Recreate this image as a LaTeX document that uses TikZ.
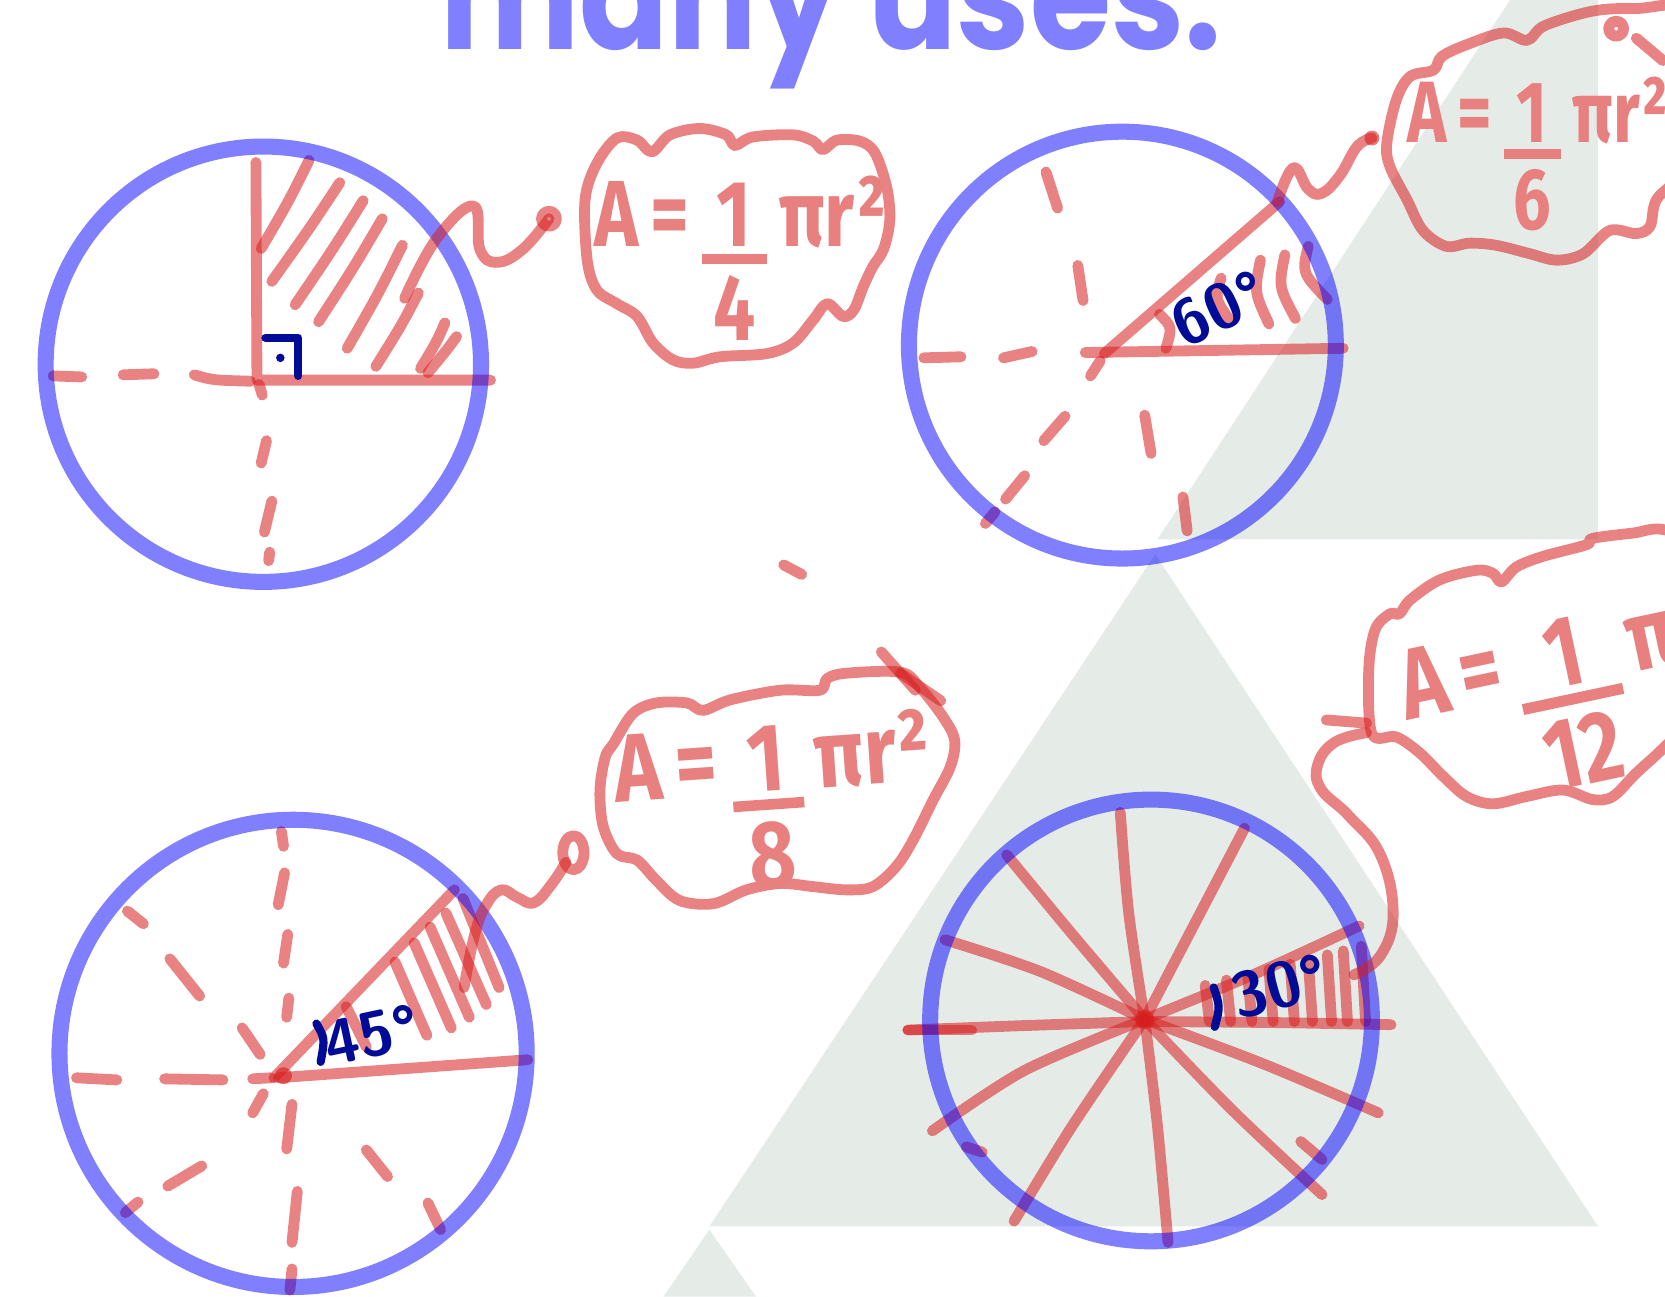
\documentclass[tikz,border=0pt]{standalone}
\usepackage{fontspec}
\newfontfamily\titlefont{Poppins}
\newfontfamily\handfont{Fira Sans}
\definecolor{inkred}{RGB}{215,30,30}
\definecolor{redtext}{RGB}{232,128,128}
\definecolor{navyink}{RGB}{0,12,150}
\definecolor{paper}{RGB}{229,236,232}
\newcommand{\secarea}[1]{{\handfont\bfseries A\,=\,\vtop{\halign{\hfil\kern1.5pt##\kern1.5pt\hfil\cr 1\cr\noalign{\kern0.8pt\hrule height 1.1pt\kern1.2pt}#1\cr}}\,πr²}}

\begin{document}
\begin{tikzpicture}[x=0.01cm, y=-0.01cm,
    ink/.style={draw=inkred, draw opacity=0.55, line width=2.9pt, line cap=round, line join=round},
    rim/.style={draw=blue, draw opacity=0.5, line width=4.3pt},
    navy/.style={draw=navyink, line width=2.2pt, line cap=round, line join=round},
    blob/.style={fill=inkred, fill opacity=0.6},
    eqn/.style={text=redtext, inner sep=0pt},
    angle/.style={text=navyink, inner sep=0pt, font=\sffamily\bfseries\fontsize{17}{17}\selectfont}]

    \useasboundingbox (0,0) rectangle (1568,1221);
    \fill[white] (0,0) rectangle (1568,1221);
    \fill[paper] (1422,0) -- (1505,0) -- (1505,508) -- (1090,508) -- cycle;
    \fill[paper] (1088,522) -- (1505,1155) -- (668,1155) -- cycle;
    \fill[paper] (668,1158) -- (712,1221) -- (625,1221) -- cycle;

    \node[anchor=base west, inner sep=0pt, text=blue!50, font=\titlefont\bfseries\fontsize{40}{40}\selectfont] (title) at (414,47) {\scalebox{0.88}[1]{many uses:}};
    \draw[ink] (738,532) -- (755,541);

    % quarter
    \draw[ink] (241,153) -- (242,358) -- (462,358);
    \draw[ink] (183,353) .. controls (200,358) .. (236,359);
    \foreach \xa/\ya/\xb/\yb in {50/354/77/355, 116/353/145/352, 244/362/247/372, 251/415/246/436, 256/472/249/501, 254/520/253/528}
      \draw[ink] (\xa,\ya) -- (\xb,\yb);
    \foreach \xa/\ya/\xb/\yb in {291/151/246/234, 320/172/256/265, 342/189/278/287, 360/206/300/303, 379/231/327/328, 394/276/354/345, 419/304/396/347, 430/317/403/351}
      \draw[ink] (\xa,\ya) .. controls ({(\xa+\xb)/2+4},{(\ya+\yb)/2-4}) .. (\xb,\yb);
    \draw[navy] (250,318) -- (281,318) -- (281,354);
    \fill[navyink] (264,337) circle[radius=4];
    \draw[rim] (248,343) circle[radius=205];

    \coordinate (h1) at (381,281);
    \coordinate (b1) at (517,206);
    \draw[ink] plot[smooth, tension=0.7] coordinates {(h1) (411,225) (446,194) (452,235) (468,247) (492,235) (b1)};
    \draw[ink] (b1) circle[radius=7];
    \draw[ink] plot[smooth cycle, tension=0.55] coordinates {(551,188) (562,154) (581,130) (600,132) (614,143) (631,127) (659,121) (684,127) (692,137) (709,129) (747,127) (766,133) (775,141) (788,132) (810,133) (824,144) (835,176) (838,207) (832,235) (822,251) (813,270) (804,292) (794,298) (779,286) (766,301) (747,323) (722,333) (678,336) (653,342) (634,339) (615,323) (600,298) (581,286) (562,273) (553,245)};
    \node[eqn] (eq4) at (697,243) {\resizebox*{2.75cm}{1.55cm}{\secarea{4}}};

    % sixth
    \draw[ink] (1022,332) -- (1265,328);
    \draw[ink] (1040,333) -- (1205,190);
    \foreach \xa/\ya/\xb/\yb in {1036/340/1027/354, 1003/392/983/415, 965/448/947/470, 937/482/928/493, 870/337/905/336, 945/337/972/331, 985/162/996/196, 1015/250/1020/283, 1078/391/1084/427, 1114/468/1118/500}
      \draw[ink] (\xa,\ya) -- (\xb,\yb);
    \foreach \xa/\ya/\xb/\yb in {1150/262/1157/300, 1187/245/1195/305, 1210/240/1220/300, 1232/232/1250/282}
      \draw[ink] (\xa,\ya) .. controls (\xa-6,{(\ya+\yb)/2}) .. (\xb,\yb);
    \draw[ink] (1092,296) .. controls (1104,308) .. (1098,328);
    \node[angle, rotate=25] (ang60) at (1148,290) {60°};
    \draw[rim] (1057,325) circle[radius=201];

    \coordinate (h2) at (1203,190);
    \coordinate (b2) at (1292,130);
    \draw[ink] plot[smooth, tension=0.7] coordinates {(h2) (1218,158) (1232,178) (1245,182) (1262,165) (1278,138) (b2)};
    \fill[blob] (b2) circle[radius=7];
    \draw[ink] plot[smooth cycle, tension=0.55] coordinates {(1306,135) (1315,94) (1328,72) (1350,66) (1358,53) (1384,41) (1416,31) (1438,38) (1453,25) (1485,14) (1510,9) (1541,8) (1600,10) (1610,90) (1585,160) (1560,188) (1554,213) (1541,220) (1516,217) (1491,239) (1466,245) (1441,239) (1409,231) (1384,229) (1362,232) (1340,217) (1325,188) (1309,157)};
    \draw[ink] (1522,27) circle[radius=7];
    \draw[ink] (1541,36) -- (1566,57);
    \node[eqn] (eq6) at (1448,145) {\resizebox*{2.45cm}{1.45cm}{\secarea{6}}};

    % eighth
    \draw[ink] (262,1015) -- (497,998);
    \draw[ink] (258,1015) -- (428,838);
    \fill[blob] (267,1013) circle[radius=8];
    \foreach \xa/\ya/\xb/\yb in {265/783/267/797, 268/822/262/852, 271/880/267/907, 272/940/270/958, 275/1040/270/1082, 280/1122/275/1170, 275/1195/273/1215, 72/1015/110/1017, 155/1016/210/1017, 238/1016/255/1015, 120/858/135/870, 160/903/188/938, 228/968/245/993, 248/1030/238/1048, 190/1098/158/1117, 130/1132/118/1142, 345/1083/365/1108, 403/1133/415/1158}
      \draw[ink] (\xa,\ya) -- (\xb,\yb);
    \foreach \xa/\ya/\xb/\yb in {326/948/345/986, 372/906/402/975, 390/888/425/968, 405/873/442/958, 420/860/458/946, 436/846/470/930}
      \draw[ink] (\xa,\ya) -- (\xb,\yb);
    \draw[navy] (298,964) .. controls (306,978) .. (302,1000);
    \node[angle, rotate=12] (ang45) at (350,975) {45°};
    \draw[rim] (276,992) circle[radius=220];

    \coordinate (h3) at (437,930);
    \coordinate (b3) at (540,803);
    \draw[ink] plot[smooth, tension=0.7] coordinates {(h3) (447,880) (458,852) (472,838) (487,845) (503,850) (520,832) (533,812)};
    \draw[ink] (b3) ellipse[x radius=10, y radius=16];
    \draw[ink] plot[smooth cycle, tension=0.55] coordinates {(578,700) (596,672) (618,662) (647,662) (662,669) (688,659) (735,650) (772,650) (779,639) (797,634) (848,633) (866,647) (888,675) (899,697) (895,722) (879,753) (860,791) (844,816) (822,835) (797,838) (766,835) (735,832) (703,838) (672,851) (640,848) (618,829) (600,810) (581,804) (568,778) (565,744) (570,713)};
    \draw[ink] (830,614) -- (862,650);
    \draw[ink] (848,634) -- (886,660);
    \node[eqn, rotate=4] (eq8) at (730,757) {\resizebox*{2.98cm}{1.6cm}{\secarea{8}}};

    % twelfth
    \foreach \sx/\sy/\mx/\my/\ex/\ey in {855/970/960/966/1078/962, 1078/962/1200/963/1310/965, 1055/765/1063/860/1078/960, 1078/960/1090/1060/1100/1170, 948/805/1010/880/1078/960, 1078/960/1160/1045/1245/1125, 1172/780/1125/870/1078/960, 1078/960/1010/1060/955/1150, 890/885/980/915/1078/960, 1078/960/1190/1002/1298/1048, 878/1065/965/1008/1078/960, 1078/960/1180/918/1280/872}
      \draw[ink] plot[smooth] coordinates {(\sx,\sy) (\mx,\my) (\ex,\ey)};
    \draw[ink] (855,970) -- (915,970);
    \draw[ink] (910,1080) -- (925,1085);
    \draw[ink] (1225,1075) -- (1245,1092);
    \fill[blob] (1078,960) circle[radius=9];
    \foreach \x in {1135,1155,1175,1195,1215,1232,1250,1265,1282}
      \draw[ink] (\x,{934-(\x-1111)*0.25}) -- (\x+4,962);
    \draw[navy] (1143,930) .. controls (1149,948) .. (1144,967);
    \node[angle, rotate=15] (ang30) at (1205,928) {30°};
    \draw[rim] (1084,961) circle[radius=208];

    \coordinate (h4) at (1275,918);
    \coordinate (b4) at (1287,690);
    \draw[ink] plot[smooth, tension=0.7] coordinates {(b4) (1257,699) (1241,720) (1244,743) (1270,768) (1300,805) (1312,860) (1300,900) (h4)};
    \draw[ink] (1249,678) -- (1287,681);
    \draw[ink] plot[smooth cycle, tension=0.55] coordinates {(1292,691) (1289,631) (1295,593) (1309,578) (1318,578) (1328,565) (1356,546) (1391,537) (1406,540) (1414,548) (1428,534) (1453,524) (1494,513) (1500,507) (1538,502) (1568,499) (1620,520) (1630,640) (1568,703) (1541,728) (1519,750) (1500,753) (1472,744) (1438,750) (1406,757) (1381,750) (1359,731) (1337,709) (1315,694)};
    \node[eqn, rotate=12] (eq12) at (1487,656) {\resizebox*{3.25cm}{1.65cm}{\secarea{12}}};
  \end{tikzpicture}
\end{document}
